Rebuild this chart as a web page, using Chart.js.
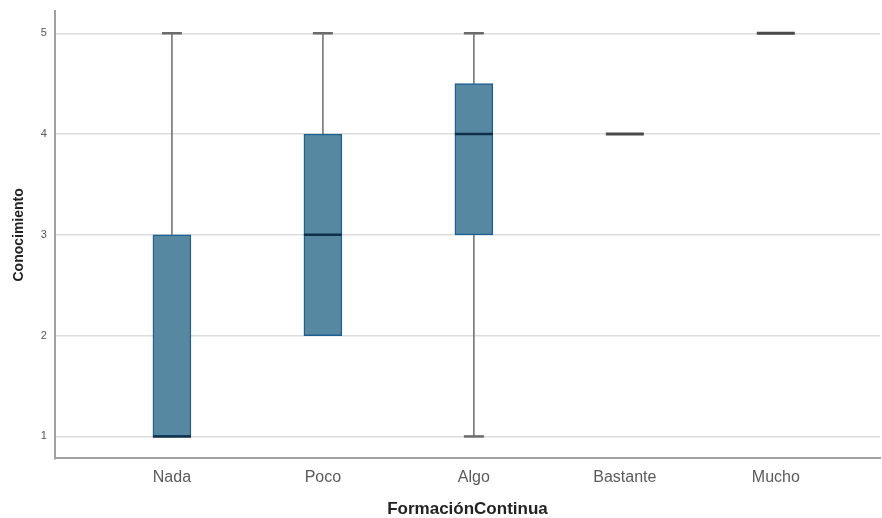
<!DOCTYPE html>
<html><head><meta charset="utf-8">
<script src="https://cdn.jsdelivr.net/npm/chart.js@4.4.1/dist/chart.umd.min.js"></script>
<style>html,body{margin:0;padding:0;background:#fff}#wrap{width:882px;height:518px}</style>
</head><body><div id="wrap"><canvas id="c" width="882" height="518"></canvas></div>
<script>
const categories = ['Nada','Poco','Algo','Bastante','Mucho'];
const whiskerMin = [1, 2, 1, 4, 5];
const q1 = [1, 2, 3, 4, 5];
const median = [1, 3, 4, 4, 5];
const q3 = [3, 4, 4.5, 4, 5];
const whiskerMax = [5, 5, 5, 4, 5];
const yTicks = [1, 2, 3, 4, 5];

const boxData = categories.map((c, i) => ({x: i, y: [q1[i], q3[i]]}));

const boxPlugin = {
  id: 'boxWhiskers',
  beforeDatasetsDraw(chart) {
    const {ctx, scales: {x, y}} = chart;
    ctx.save();
    categories.forEach((c, i) => {
      const cx = x.getPixelForValue(i);
      const cap = 10;
      ctx.strokeStyle = '#6b6b6b';
      ctx.lineWidth = 1.5;
      if (whiskerMax[i] > q3[i]) {
        ctx.beginPath();
        ctx.moveTo(cx, y.getPixelForValue(q3[i]));
        ctx.lineTo(cx, y.getPixelForValue(whiskerMax[i]));
        ctx.stroke();
        ctx.lineWidth = 2.5;
        ctx.beginPath();
        ctx.moveTo(cx - cap, y.getPixelForValue(whiskerMax[i]));
        ctx.lineTo(cx + cap, y.getPixelForValue(whiskerMax[i]));
        ctx.stroke();
        ctx.lineWidth = 1.5;
      }
      if (whiskerMin[i] < q1[i]) {
        ctx.beginPath();
        ctx.moveTo(cx, y.getPixelForValue(q1[i]));
        ctx.lineTo(cx, y.getPixelForValue(whiskerMin[i]));
        ctx.stroke();
        ctx.lineWidth = 2.5;
        ctx.beginPath();
        ctx.moveTo(cx - cap, y.getPixelForValue(whiskerMin[i]));
        ctx.lineTo(cx + cap, y.getPixelForValue(whiskerMin[i]));
        ctx.stroke();
      }
    });
    ctx.restore();
  },
  afterDatasetsDraw(chart) {
    const {ctx, scales: {x, y}} = chart;
    ctx.save();
    categories.forEach((c, i) => {
      const cx = x.getPixelForValue(i);
      const half = 19;
      const my = y.getPixelForValue(median[i]);
      const flat = q1[i] === q3[i];
      ctx.strokeStyle = flat ? '#4a4a4a' : '#0f2f4a';
      ctx.lineWidth = flat ? 3 : 2.5;
      ctx.beginPath();
      ctx.moveTo(cx - half, my);
      ctx.lineTo(cx + half, my);
      ctx.stroke();
    });
    ctx.restore();
  }
};

new Chart(document.getElementById('c'), {
  type: 'bar',
  data: {
    datasets: [{
      data: boxData,
      backgroundColor: '#5788a2',
      borderColor: '#1d5f93',
      borderWidth: 1.5,
      borderSkipped: false,
      barThickness: 38
    }]
  },
  plugins: [boxPlugin],
  options: {
    responsive: false,
    animation: false,
    layout: {padding: {left: 11, right: 2, top: 2, bottom: 0}},
    plugins: {legend: {display: false}, tooltip: {enabled: false}},
    scales: {
      x: {
        type: 'linear',
        offset: false,
        min: -0.775,
        max: 4.69,
        afterBuildTicks(axis) { axis.ticks = categories.map((c, i) => ({value: i})); },
        ticks: {
          callback: (v) => categories[v],
          color: '#5a5a5a',
          font: {family: 'Liberation Sans, Arial, sans-serif', size: 16},
          padding: 10,
          autoSkip: false,
          maxRotation: 0
        },
        grid: {display: false, drawTicks: false},
        border: {color: '#a0a0a0', width: 2},
        title: {
          display: true,
          text: 'FormaciónContinua',
          color: '#222',
          font: {family: 'Liberation Sans, Arial, sans-serif', size: 17, weight: 'bold', lineHeight: 1},
          padding: {top: 3.4, bottom: 0}
        }
      },
      y: {
        min: 0.782,
        max: 5.218,
        afterBuildTicks(axis) { axis.ticks = yTicks.map(v => ({value: v})); },
        ticks: {
          color: '#555',
          font: {family: 'Liberation Sans, Arial, sans-serif', size: 11, lineHeight: 0.6},
          padding: 8
        },
        grid: {color: '#dcdcdc', lineWidth: 1.5, drawTicks: false},
        border: {color: '#a0a0a0', width: 2},
        title: {
          display: true,
          text: 'Conocimiento',
          color: '#222',
          font: {family: 'Liberation Sans, Arial, sans-serif', size: 14, weight: 'bold'},
          padding: {top: 0, bottom: 5}
        }
      }
    }
  }
});
</script></body></html>
